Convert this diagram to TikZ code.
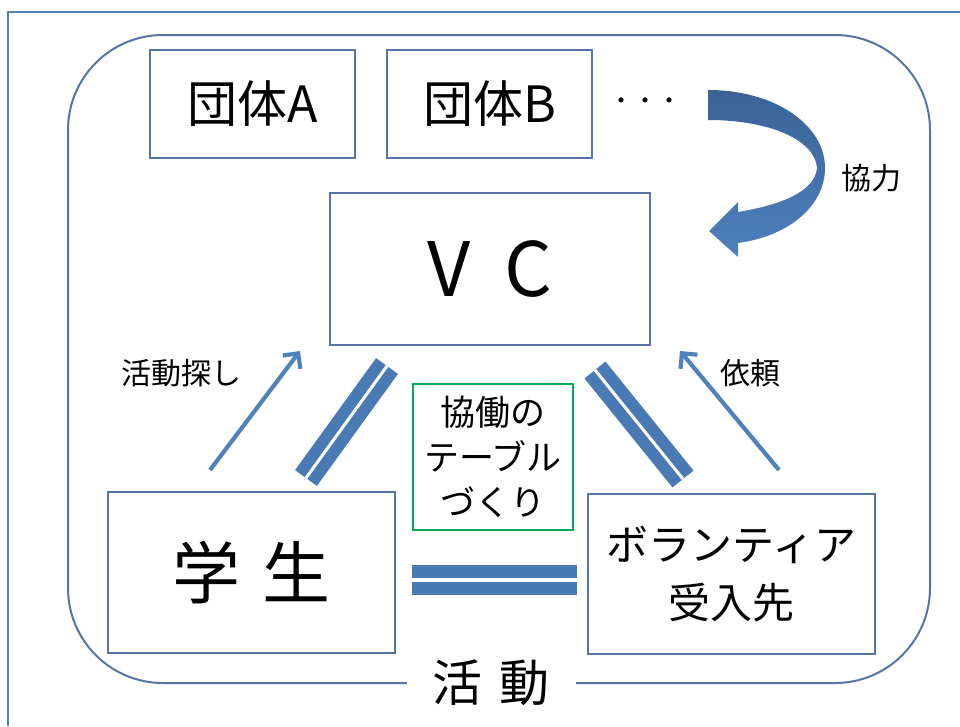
\documentclass[tikz,border=0pt]{standalone}
\usepackage{fontspec}
\setmainfont{Noto Sans CJK JP}
\usetikzlibrary{arrows.meta}
\definecolor{lineblue}{RGB}{79,129,189}
\definecolor{boxblue}{RGB}{84,117,165}
\definecolor{barblue}{RGB}{74,122,180}
\definecolor{arcdark}{RGB}{58,98,150}
\definecolor{tablegreen}{RGB}{0,176,80}

\begin{document}
\begin{tikzpicture}[x=1pt,y=-1pt]
\tikzstyle{every node}+=[inner sep=0pt]
\tikzstyle{box}=[draw=boxblue, line width=1.8pt, fill=white]
\tikzstyle{bar}=[draw=barblue, line width=12pt, double=white, double distance=3pt]
\tikzstyle{thinarrow}=[draw=lineblue, line width=4.2pt, -{Straight Barb[length=11pt,width=22pt]}]
\tikzstyle{small}=[font=\fontsize{30}{34}\selectfont]
\useasboundingbox (0,0) rectangle (960,726);
% frame and activity area
\draw [lineblue, line width=2pt] (8,726) -- (8,12) -- (960,12);
\draw [boxblue, line width=2pt, rounded corners=95pt] (68,35) rectangle (930,683);
\node [fill=white, inner xsep=26pt, inner ysep=4pt, font=\fontsize{50}{54}\selectfont] (katsudo) at (491,683) {活\hspace{17pt}動};
% groups
\node [box, minimum width=205pt, minimum height=108pt, font=\fontsize{50}{54}\selectfont] (dantaiA) at (252.5,104) {団体A};
\node [box, minimum width=205pt, minimum height=108pt, font=\fontsize{50}{54}\selectfont] (dantaiB) at (489.5,104) {団体B};
\node [font=\fontsize{24}{28}\selectfont] (dots) at (645,104) {・・・};
% cooperation arrow
\shade [top color=arcdark, bottom color=lineblue] (708,90) .. controls (775,90) and (825,125) .. (825,168)
  .. controls (825,205) and (790,236) .. (738,243) -- (738,257) -- (709,231) -- (738,202) -- (738,212)
  .. controls (780,205) and (815,192) .. (817,168) .. controls (815,140) and (770,120) .. (708,120) -- cycle;
\node [small] (kyoryoku) at (871,178) {協力};
% main boxes
\node [box, minimum width=320pt, minimum height=152pt, font=\fontsize{75}{80}\selectfont] (vc) at (490,269) {V\hspace{34pt}C};
\node [box, minimum width=287pt, minimum height=161pt, font=\fontsize{68}{72}\selectfont] (gakusei) at (251.5,572.5) {学\hspace{22pt}生};
\node [box, minimum width=287pt, minimum height=160pt, align=center, font=\fontsize{42}{58}\selectfont] (ukeire) at (731.5,574) {ボランティア\\受入先};
\node [draw=tablegreen, line width=2.5pt, minimum width=160pt, minimum height=146pt, align=center, font=\fontsize{35}{45}\selectfont] (table) at (493,457) {協働の\\テーブル\\づくり};
% links
\coordinate (lbarTop) at (387,366);
\coordinate (lbarBot) at (306,478);
\coordinate (rbarTop) at (595,370);
\coordinate (rbarBot) at (683,479);
\coordinate (hbarL) at (412,579.5);
\coordinate (hbarR) at (577,579.5);
\draw [bar] (lbarBot) -- (lbarTop);
\draw [bar] (rbarBot) -- (rbarTop);
\draw [bar, line width=13pt, double distance=4pt] (hbarL) -- (hbarR);
% requests
\coordinate (sagashiFrom) at (210,470);
\coordinate (sagashiTo) at (300,351);
\coordinate (iraiFrom) at (779,470);
\coordinate (iraiTo) at (680,351);
\draw [thinarrow] (sagashiFrom) -- (sagashiTo);
\draw [thinarrow] (iraiFrom) -- (iraiTo);
\node [small] (sagashi) at (181,373) {活動探し};
\node [small] (irai) at (750,373) {依頼};
\end{tikzpicture}
\end{document}
